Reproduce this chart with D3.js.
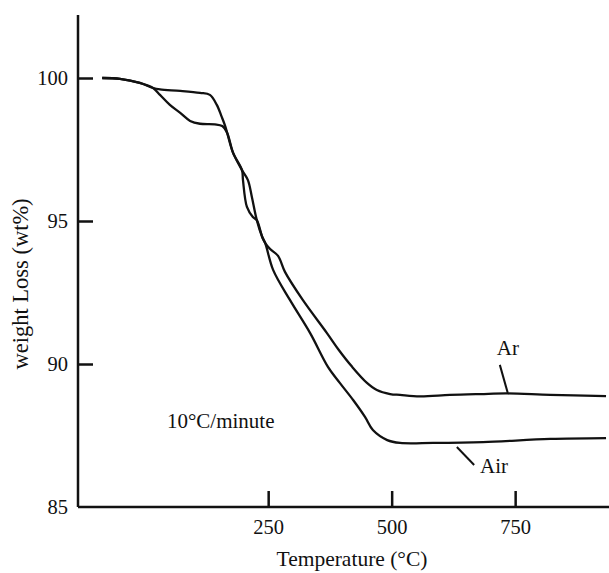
<!DOCTYPE html>
<html>
<head>
<meta charset="utf-8">
<script src="https://cdn.jsdelivr.net/npm/d3@7"></script>
<style>
  body { margin: 0; background: #fff; }
  text { font-family: "Liberation Serif", "Times New Roman", serif; fill: #111; }
</style>
</head>
<body>
<div id="chart"></div>
<script>
// Set up SVG and dimensions
var width = 609, height = 573;

// Data (temperature in °C, weight in wt%)
var arTemp = [-86, -50, -10, 17, 31, 72, 112, 132, 146, 156, 163, 167, 179, 197, 209, 217, 227, 238, 244, 254, 270, 284, 320, 369, 393, 420, 450, 470, 497, 517, 557, 618, 680, 734, 821, 934];
var arWeight = [100.0, 99.97, 99.83, 99.65, 99.60, 99.55, 99.48, 99.41, 99.06, 98.64, 98.32, 98.08, 97.38, 96.78, 96.43, 95.84, 95.03, 94.44, 94.23, 94.02, 93.78, 93.22, 92.24, 91.08, 90.49, 89.90, 89.34, 89.09, 88.95, 88.92, 88.87, 88.92, 88.95, 88.97, 88.92, 88.88];

var airTemp = [-86, -50, -10, 17, 31, 51, 72, 92, 112, 142, 157, 167, 179, 197, 199, 207, 219, 227, 238, 244, 260, 294, 335, 371, 395, 422, 446, 462, 491, 517, 584, 685, 821, 934];
var airWeight = [100.0, 99.97, 99.83, 99.65, 99.41, 99.06, 98.78, 98.50, 98.40, 98.38, 98.32, 98.08, 97.38, 96.78, 96.43, 95.49, 95.14, 95.03, 94.44, 94.23, 93.29, 92.24, 91.08, 89.90, 89.34, 88.74, 88.15, 87.69, 87.34, 87.24, 87.24, 87.27, 87.38, 87.41];

var yTicks = [85, 90, 95, 100];
var xTicks = [250, 500, 750];

var svg = d3.select("#chart")
    .append("svg")
    .attr("width", width)
    .attr("height", height);

var x = d3.scaleLinear().domain([-135, 940]).range([78, 609]);
var y = d3.scaleLinear().domain([85, 100]).range([507, 78]);

// Axes (hand drawn look: plain lines with inner ticks)
svg.append("line")
    .attr("x1", x(-135)).attr("x2", x(-135))
    .attr("y1", y(102.2)).attr("y2", y(85))
    .attr("stroke", "#111").attr("stroke-width", 2.5);

svg.append("line")
    .attr("x1", x(-135)).attr("x2", x(940))
    .attr("y1", y(85)).attr("y2", y(85))
    .attr("stroke", "#111").attr("stroke-width", 2.5);

var yAxis = d3.axisLeft(y).tickValues(yTicks).tickSize(-15).tickPadding(10);
var gy = svg.append("g")
    .attr("transform", "translate(" + x(-135) + ",0)")
    .call(yAxis);
gy.select(".domain").remove();
gy.selectAll(".tick line").attr("stroke", "#111").attr("stroke-width", 2.5)
    .filter(function(d) { return d === 85; }).remove();
gy.selectAll(".tick text")
    .attr("x", -10)
    .style("font-size", "20.5px")
    .style("font-family", "Liberation Serif");

var xAxis = d3.axisBottom(x).tickValues(xTicks).tickSize(-16).tickPadding(10);
var gx = svg.append("g")
    .attr("transform", "translate(0," + y(85) + ")")
    .call(xAxis);
gx.select(".domain").remove();
gx.selectAll(".tick line").attr("stroke", "#111").attr("stroke-width", 2.5);
gx.selectAll(".tick text")
    .attr("y", 12)
    .style("font-size", "20.5px")
    .style("font-family", "Liberation Serif");

// Curves
var line = d3.line()
    .x(function(d) { return x(d[0]); })
    .y(function(d) { return y(d[1]); })
    .curve(d3.curveCatmullRom.alpha(0.5));

var arData = d3.zip(arTemp, arWeight);
var airData = d3.zip(airTemp, airWeight);

svg.append("path").datum(arData)
    .attr("d", line)
    .attr("fill", "none").attr("stroke", "#111").attr("stroke-width", 2.3);

svg.append("path").datum(airData)
    .attr("d", line)
    .attr("fill", "none").attr("stroke", "#111").attr("stroke-width", 2.3);

// Labels with leader lines
svg.append("line")
    .attr("x1", x(719)).attr("y1", y(89.97))
    .attr("x2", x(735)).attr("y2", y(88.99))
    .attr("stroke", "#111").attr("stroke-width", 2);
svg.append("text")
    .attr("x", x(713)).attr("y", y(90.31))
    .style("font-size", "21px")
    .text("Ar");

svg.append("line")
    .attr("x1", x(632)).attr("y1", y(87.1))
    .attr("x2", x(667)).attr("y2", y(86.47))
    .attr("stroke", "#111").attr("stroke-width", 2);
svg.append("text")
    .attr("x", x(679)).attr("y", y(86.19))
    .style("font-size", "21px")
    .text("Air");

svg.append("text")
    .attr("x", x(45)).attr("y", y(87.76))
    .style("font-size", "21px")
    .text("10°C/minute");

// Axis titles
svg.append("text")
    .attr("x", 352).attr("y", 566)
    .attr("text-anchor", "middle")
    .style("font-size", "21.5px")
    .text("Temperature (°C)");

svg.append("text")
    .attr("transform", "translate(28,284) rotate(-90)")
    .attr("text-anchor", "middle")
    .style("font-size", "22.5px")
    .text("weight Loss (wt%)");
</script>
</body>
</html>
